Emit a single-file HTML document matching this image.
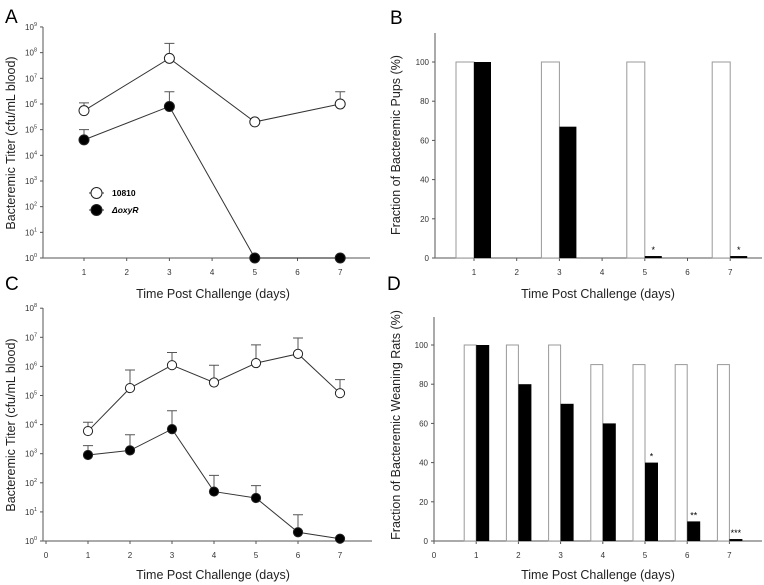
<!DOCTYPE html>
<html><head><meta charset="utf-8"><style>
body{margin:0;background:#fff}
svg{display:block;font-family:"Liberation Sans",sans-serif}
</style></head><body>
<svg id="fig" width="764" height="585" viewBox="0 0 764 585">
<text x="5" y="23" font-size="19">A</text>
<text x="390" y="24" font-size="19">B</text>
<text x="5" y="290" font-size="19">C</text>
<text x="387" y="290" font-size="19">D</text>
<g id="pA"></g>
<g id="pB"></g>
<g id="pC"></g>
<g id="pD"></g>
</svg>
<script>
// Panel A data
const aDays = [1, 3, 5, 7];
const aWild = [5.5e5, 6e7, 2e5, 1e6];
const aWildErr = [1.1e6, 2.3e8, 2e5, 3e6];
const aMut = [4e4, 8e5, 1, 1];
const aMutErr = [1e5, 3e6, 1, 1];
const aXTicks = [1, 2, 3, 4, 5, 6, 7];
const aYExp = [0, 1, 2, 3, 4, 5, 6, 7, 8, 9];
// Panel B data
const bDays = [1, 3, 5, 7];
const bWild = [100, 100, 100, 100];
const bMut = [100, 67, 1, 1];
const bStars = ["", "", "*", "*"];
const bXTicks = [1, 2, 3, 4, 5, 6, 7];
const bYTicks = [0, 20, 40, 60, 80, 100];
// Panel C data
const cDays = [1, 2, 3, 4, 5, 6, 7];
const cWild = [6e3, 1.8e5, 1.1e6, 2.8e5, 1.3e6, 2.7e6, 1.2e5];
const cWildErr = [1.2e4, 7.5e5, 3e6, 1.1e6, 5.5e6, 9.5e6, 3.5e5];
const cMut = [900, 1300, 7000, 50, 30, 2, 1.2];
const cMutErr = [1900, 4500, 3e4, 180, 80, 8, 1.2];
const cXTicks = [0, 1, 2, 3, 4, 5, 6, 7];
const cYExp = [0, 1, 2, 3, 4, 5, 6, 7, 8];
// Panel D data
const dDays = [1, 2, 3, 4, 5, 6, 7];
const dWild = [100, 100, 100, 90, 90, 90, 90];
const dMut = [100, 80, 70, 60, 40, 10, 1];
const dStars = ["", "", "", "", "*", "**", "***"];
const dXTicks = [0, 1, 2, 3, 4, 5, 6, 7];
const dYTicks = [0, 20, 40, 60, 80, 100];

const NS = "http://www.w3.org/2000/svg";
function mk(parent, tag, attrs, text) {
  const e = document.createElementNS(NS, tag);
  for (const k in attrs) e.setAttribute(k, attrs[k]);
  if (text !== undefined) e.textContent = text;
  parent.appendChild(e);
  return e;
}
function axes(g, o) {
  let e;
  e = mk(g, "line", {x1: o.x0, y1: o.yTop, x2: o.x0, y2: o.yBot, stroke: "#555", "stroke-width": 1});
  
  
  e = mk(g, "line", {x1: o.x0, y1: o.yBot, x2: o.xEnd, y2: o.yBot, stroke: "#777", "stroke-width": 1.2});
  
  
  o.xTicks.forEach(t => {
    const x = o.sx(t);
    mk(g, "line", {x1: x, y1: o.yBot, x2: x, y2: o.yBot + 3, stroke: "#555"});
    e = mk(g, "text", {x: x, y: o.yBot + 17, "font-size": 8, "text-anchor": "middle", fill: "#333"}, t);
    
    
  });
  e = mk(g, "text", {x: o.titleX, y: o.titleY, "font-size": 12.5, "text-anchor": "middle", fill: "#222"}, "Time Post Challenge (days)");
  
  
  e = mk(g, "text", {x: 0, y: 0, "font-size": 12.5, "text-anchor": "middle", fill: "#222", transform: `translate(${o.ytX},${o.ytY}) rotate(-90)`}, o.yTitle);
  
  
}
function logPanel(g, o) {
  const sy = v => o.yBot - Math.log10(v) * o.dec;
  const sx = d => o.xd0 + d * o.dx;
  o.sx = sx;
  axes(g, o);
  o.yExp.forEach(p => {
    const y = o.yBot - p * o.dec;
    mk(g, "line", {x1: o.x0 - 3, y1: y, x2: o.x0, y2: y, stroke: "#555"});
    const t = mk(g, "text", {x: o.x0 - 6, y: y + 3, "font-size": 8, "text-anchor": "end", fill: "#333"});
    
    
    mk(t, "tspan", {}, "10");
    mk(t, "tspan", {dy: -4, "font-size": 5.5}, p);
  });
  o.series.forEach(s => {
    s.err.forEach((ev, i) => {
      if (ev > s.val[i] * 1.05) {
        const x = sx(s.days[i]);
        const e = mk(g, "path", {d: `M${x},${sy(s.val[i])}V${sy(ev)}M${x - 5},${sy(ev)}H${x + 5}`, stroke: "#555", fill: "none", "stroke-width": 1});
        
        
      }
    });
    const pts = s.days.map((d, i) => sx(d) + "," + sy(s.val[i])).join(" ");
    const l = mk(g, "polyline", {points: pts, fill: "none", stroke: "#333", "stroke-width": 1});
    
    
    s.days.forEach((d, i) => {
      const c = mk(g, "circle", {cx: sx(d), cy: sy(s.val[i]), r: o.r, fill: s.fill, stroke: "#222", "stroke-width": 1});
      
      
    });
  });
}
function barPanel(g, o) {
  const sy = v => o.yBot - v * o.py;
  const sx = d => o.xd0 + d * o.dx;
  o.sx = sx;
  axes(g, o);
  o.yTicks.forEach(v => {
    const y = sy(v);
    mk(g, "line", {x1: o.x0 - 3, y1: y, x2: o.x0, y2: y, stroke: "#555"});
    const t = mk(g, "text", {x: o.x0 - 6, y: y + 3, "font-size": 8, "text-anchor": "end", fill: "#333"}, v);
    
    
  });
  o.days.forEach((d, i) => {
    const x = sx(d);
    let r = mk(g, "rect", {x: x - o.ww, y: sy(o.wild[i]), width: o.ww, height: o.wild[i] * o.py, fill: "#fff", stroke: "#999", "stroke-width": 1});
    
    
    r = mk(g, "rect", {x: x, y: sy(o.mut[i]), width: o.bw, height: Math.max(o.mut[i] * o.py, 1.5), fill: "#000"});
    
    
    if (o.stars[i]) {
      const t = mk(g, "text", {x: x + o.bw / 2, y: sy(o.mut[i]) - 3, "font-size": 9, "text-anchor": "middle"}, o.stars[i]);
      
      
    }
  });
}
logPanel(document.getElementById("pA"), {
  x0: 43, xEnd: 370, yTop: 27, yBot: 258, dec: 25.67, xd0: 41.3, dx: 42.7, r: 5,
  xTicks: aXTicks, yExp: aYExp, titleX: 213, titleY: 298, ytX: 15, ytY: 143,
  yTitle: "Bacteremic Titer (cfu/mL blood)",
  series: [
    {name: "wildtype-10810", days: aDays, val: aWild, err: aWildErr, fill: "#fff"},
    {name: "oxyr-mutant", days: aDays, val: aMut, err: aMutErr, fill: "#000"}
  ]
});
barPanel(document.getElementById("pB"), {
  x0: 435, xEnd: 762, yTop: 33, yBot: 258, py: 1.96, xd0: 431.3, dx: 42.7, ww: 18, bw: 17,
  xTicks: bXTicks, yTicks: bYTicks, days: bDays, wild: bWild, mut: bMut, stars: bStars,
  titleX: 598, titleY: 298, ytX: 400, ytY: 145, yTitle: "Fraction of Bacteremic Pups (%)"
});
logPanel(document.getElementById("pC"), {
  x0: 43, xEnd: 372, yTop: 308, yBot: 541, dec: 29.1, xd0: 46, dx: 42, r: 4.6,
  xTicks: cXTicks, yExp: cYExp, titleX: 213, titleY: 579, ytX: 15, ytY: 425,
  yTitle: "Bacteremic Titer (cfu/mL blood)",
  series: [
    {name: "wildtype-10810", days: cDays, val: cWild, err: cWildErr, fill: "#fff"},
    {name: "oxyr-mutant", days: cDays, val: cMut, err: cMutErr, fill: "#000"}
  ]
});
barPanel(document.getElementById("pD"), {
  x0: 434, xEnd: 762, yTop: 317, yBot: 541, py: 1.96, xd0: 434, dx: 42.2, ww: 12, bw: 13,
  xTicks: dXTicks, yTicks: dYTicks, days: dDays, wild: dWild, mut: dMut, stars: dStars,
  titleX: 598, titleY: 579, ytX: 400, ytY: 425, yTitle: "Fraction of Bacteremic Weaning Rats (%)"
});
const pa = document.getElementById("pA");
let lg = mk(pa, "g", {});


mk(lg, "line", {x1: 89, y1: 193, x2: 104, y2: 193, stroke: "#333"});
let lc = mk(lg, "circle", {cx: 96.5, cy: 193, r: 5.5, fill: "#fff", stroke: "#222"});


mk(lg, "text", {x: 112, y: 196, "font-size": 8.5, "font-weight": "bold"}, "10810");
mk(lg, "line", {x1: 89, y1: 210, x2: 104, y2: 210, stroke: "#333"});
lc = mk(lg, "circle", {cx: 96.5, cy: 210, r: 5.5, fill: "#000", stroke: "#222"});


mk(lg, "text", {x: 112, y: 213, "font-size": 8.5, "font-weight": "bold", "font-style": "italic"}, "ΔoxyR");
</script>
</body></html>
